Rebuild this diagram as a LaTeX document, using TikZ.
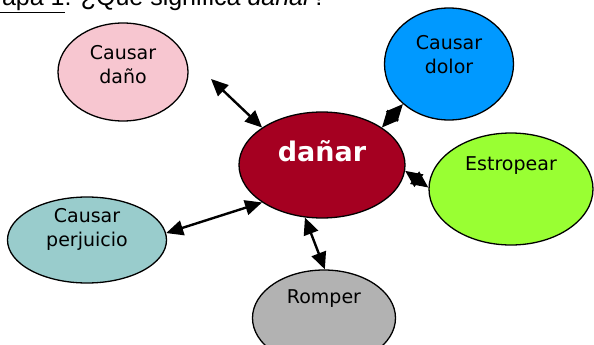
\documentclass[tikz,border=0pt]{standalone}
\usepackage{fontspec}
\setmainfont{DejaVu Sans}
\newfontfamily\titlefont{Liberation Sans}
\usepackage{tikz}
\usetikzlibrary{shapes.geometric, arrows.meta}

\definecolor{rosa}{HTML}{F7C6D0}
\definecolor{azul}{HTML}{0099FF}
\definecolor{granate}{HTML}{A50021}
\definecolor{verde}{HTML}{99FF33}
\definecolor{turquesa}{HTML}{99CCCC}
\definecolor{gris}{HTML}{B2B2B2}

\tikzset{
  bubble/.style={ellipse, draw=black, line width=1.3pt, inner sep=0pt},
  lbl/.style={align=center, font=\fontsize{19}{24}\selectfont},
  conn/.style={line width=2.4pt, {Triangle[length=17pt,width=15pt]}-{Triangle[length=17pt,width=15pt]}}
}

\begin{document}
\begin{tikzpicture}[x=1pt, y=-1pt]
\useasboundingbox (0,0) rectangle (594,345);
\clip (0,0) rectangle (594,345);

% --- title (cut at top) ---
\node[anchor=base west, inner sep=0pt, font=\titlefont\fontsize{25}{30}\selectfont] (titulo) at (-19,6)
  {\underline{Mapa 1}: ¿Qué significa \textit{dañar}?};

% --- bubbles ---
\node[bubble, fill=rosa, minimum width=130pt, minimum height=98pt] (dano) at (123,72) {};
\node[lbl] at (123,65) {Causar\\daño};

\node[bubble, fill=azul, minimum width=129pt, minimum height=112pt] (dolor) at (449,64) {};
\node[lbl] at (449,55) {Causar\\dolor};

\node[bubble, fill=granate, minimum width=166pt, minimum height=106pt] (danar) at (322,165) {};
\node[font=\bfseries\fontsize{27}{32}\selectfont, text=white] at (322,151) {dañar};

\node[bubble, fill=verde, minimum width=164pt, minimum height=112pt] (estro) at (511,189) {};
\node[lbl] at (511,166) {Estropear};

\node[bubble, fill=turquesa, minimum width=159pt, minimum height=86pt] (perj) at (87,240) {};
\node[lbl] at (87,229) {Causar\\perjuicio};

\node[bubble, fill=gris, minimum width=143pt, minimum height=96pt] (romp) at (324,318) {};
\node[lbl] at (324,299) {Romper};

% --- connectors ---
\coordinate (fdano) at (211,79);
\draw[conn] (fdano) -- (danar.148);
\draw[conn] (danar.32) -- (dolor.221);
\draw[conn] (danar.-4) -- (estro.179);
\draw[conn] (perj.5) -- (danar.212);
\draw[conn] (danar.252) -- (romp.89);
\end{tikzpicture}
\end{document}
